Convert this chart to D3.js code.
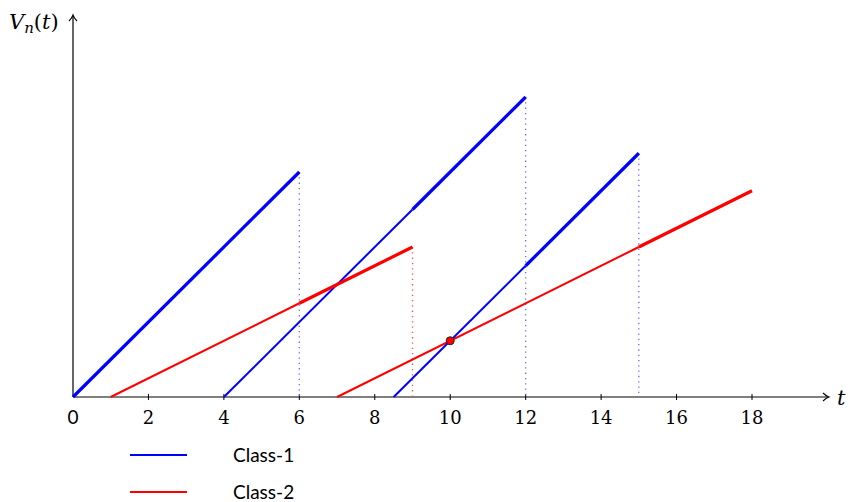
<!DOCTYPE html>
<html>
<head>
<meta charset="utf-8">
<script src="https://cdn.jsdelivr.net/npm/d3@7"></script>
<style>
  body { margin: 0; background: #fff; }
  svg { display: block; }
  .math { font-family: "DejaVu Serif", "Liberation Serif", serif; }
  .sans { font-family: Lato, "Open Sans", sans-serif; }
</style>
</head>
<body>
<div id="chart"></div>
<script>
// values (t, V)
const class1Thin = [[[4, 0], [9, 5]], [[8.5, 0], [12, 3.5]]];
const class1Thick = [[[0, 0], [6, 6]], [[9, 5], [12, 8]], [[12, 3.5], [15, 6.5]]];
const class2Thin = [[[1, 0], [6, 2.5]], [[7, 0], [15, 4]]];
const class2Thick = [[[6, 2.5], [9, 4]], [[15, 4], [18, 5.5]]];
const class1Drops = [[6, 6], [12, 8], [15, 6.5]];
const class2Drops = [[9, 4]];
const crossing = [10, 1.5];
const xTicks = [0, 2, 4, 6, 8, 10, 12, 14, 16, 18];
const legendNames = ['Class-1', 'Class-2'];
const legendColors = ['#0000ff', '#ff0000'];

const width = 848, height = 502;
const svg = d3.select('#chart').append('svg')
    .attr('width', width)
    .attr('height', height);

const x = d3.scaleLinear().domain([0, 18]).range([73, 752]);
const y = d3.scaleLinear().domain([0, 8]).range([397, 97]);
const line = d3.line().x(d => x(d[0])).y(d => y(d[1]));

// axes
svg.append('line')
    .attr('x1', x(0)).attr('y1', y(0))
    .attr('x2', 828).attr('y2', y(0))
    .attr('stroke', '#000').attr('stroke-width', 1.2);
svg.append('line')
    .attr('x1', x(0)).attr('y1', y(0))
    .attr('x2', x(0)).attr('y2', 16)
    .attr('stroke', '#000').attr('stroke-width', 1.2);
// arrow heads
svg.append('path')
    .attr('d', `M${823},${y(0) - 4} Q${826},${y(0) - 1} ${829},${y(0)} Q${826},${y(0) + 1} ${823},${y(0) + 4}`)
    .attr('fill', 'none').attr('stroke', '#000').attr('stroke-width', 1.1);
svg.append('path')
    .attr('d', `M${x(0) - 4},${21} Q${x(0) - 1},${18} ${x(0)},${15} Q${x(0) + 1},${18} ${x(0) + 4},${21}`)
    .attr('fill', 'none').attr('stroke', '#000').attr('stroke-width', 1.1);

// ticks
svg.selectAll('.tick')
    .data(xTicks.filter(d => d > 0))
    .enter().append('line')
    .attr('x1', d => x(d)).attr('x2', d => x(d))
    .attr('y1', y(0) - 3).attr('y2', y(0) + 3)
    .attr('stroke', '#000').attr('stroke-width', 1);

svg.selectAll('.tick-label')
    .data(xTicks)
    .enter().append('text')
    .attr('class', d => d === 0 ? 'sans' : 'math')
    .attr('x', d => x(d))
    .attr('y', 424)
    .attr('text-anchor', 'middle')
    .attr('font-size', d => d === 0 ? 19 : 18)
    .text(d => d);

// axis titles
const vLabel = svg.append('text')
    .attr('class', 'math')
    .attr('x', 9).attr('y', 29)
    .attr('font-size', 21);
vLabel.append('tspan').attr('font-style', 'italic').text('V');
vLabel.append('tspan').attr('font-style', 'italic').attr('font-size', 15).attr('dy', 4).text('n');
vLabel.append('tspan').attr('dy', -4).text('(');
vLabel.append('tspan').attr('font-style', 'italic').text('t');
vLabel.append('tspan').text(')');

svg.append('text')
    .attr('class', 'math')
    .attr('x', 837).attr('y', 405)
    .attr('font-style', 'italic')
    .attr('font-size', 21)
    .text('t');

// dotted drop lines
svg.selectAll('.drop1')
    .data(class1Drops)
    .enter().append('line')
    .attr('x1', d => x(d[0])).attr('x2', d => x(d[0]))
    .attr('y1', d => y(d[1])).attr('y2', y(0))
    .attr('stroke', '#6b6bff').attr('stroke-width', 1.3)
    .attr('stroke-dasharray', '1.3,4');
svg.selectAll('.drop2')
    .data(class2Drops)
    .enter().append('line')
    .attr('x1', d => x(d[0])).attr('x2', d => x(d[0]))
    .attr('y1', d => y(d[1])).attr('y2', y(0))
    .attr('stroke', '#ff5050').attr('stroke-width', 1.3)
    .attr('stroke-dasharray', '1.3,4');

// workload lines
function drawSegments(data, color, w) {
    svg.append('g').selectAll('path')
        .data(data)
        .enter().append('path')
        .attr('d', line)
        .attr('fill', 'none')
        .attr('stroke', color)
        .attr('stroke-width', w);
}
drawSegments(class2Thin, '#ff0000', 2);
drawSegments(class1Thin, '#0000ff', 2);
drawSegments(class2Thick, '#ff0000', 3.2);
drawSegments(class1Thick, '#0000ff', 3.2);

svg.append('circle')
    .attr('cx', x(crossing[0])).attr('cy', y(crossing[1]))
    .attr('r', 4)
    .attr('fill', '#ff0000')
    .attr('stroke', '#222').attr('stroke-width', 1);

// legend
const legend = svg.selectAll('.legend')
    .data(legendNames)
    .enter().append('g')
    .attr('transform', (d, i) => `translate(0, ${455 + i * 37})`);
legend.append('line')
    .attr('x1', 130).attr('x2', 187)
    .attr('y1', 0).attr('y2', 0)
    .attr('stroke', (d, i) => legendColors[i])
    .attr('stroke-width', 2);
legend.append('text')
    .attr('class', 'sans')
    .attr('x', 233).attr('y', 7)
    .attr('font-size', 19)
    .text(d => d);
</script>
</body>
</html>
